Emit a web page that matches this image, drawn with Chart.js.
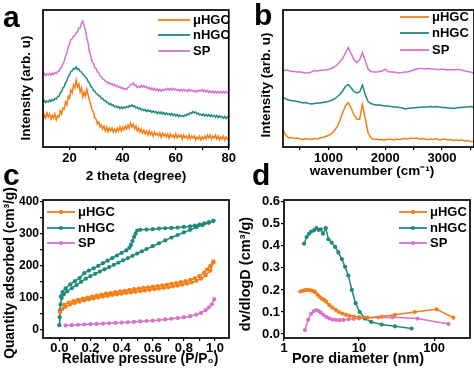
<!DOCTYPE html>
<html>
<head>
<meta charset="utf-8">
<script src="https://cdn.jsdelivr.net/npm/chart.js@4.4.1/dist/chart.umd.min.js"></script>
<style>
  html, body { margin: 0; padding: 0; background: #fff; }
  body { width: 474px; height: 368px; position: relative; overflow: hidden; }
  canvas { position: absolute; }
  #chartA { left: 0; top: 0; width: 237px; height: 190px; }
  #chartB { left: 237px; top: 0; width: 237px; height: 190px; }
  #chartC { left: 0; top: 160px; width: 237px; height: 208px; }
  #chartD { left: 237px; top: 160px; width: 237px; height: 208px; }
</style>
</head>
<body>
<canvas id="chartA" width="237" height="190"></canvas>
<canvas id="chartB" width="237" height="190"></canvas>
<canvas id="chartC" width="237" height="208"></canvas>
<canvas id="chartD" width="237" height="208"></canvas>
<script>
// ---- data ----
const names = ['\u03bcHGC', 'nHGC', 'SP'];
const colors = ['#f57f17', '#1f8a7c', '#d874c8'];

// a: XRD, sampled every 0.5 degree from 10 to 80
const thetaStart = 10, thetaStep = 0.5;
const xrdMu = [27,32,29,34,30,33,28,32,29,33, 27,31,30,36,33,39,38,45,42,51,
  49,57,54,62,59,67,60,63,55,59, 50,55,51,58,52,47,42,37,35,29,
  28,23,25,20,22,18,21,16,20,15, 19,16,19,15,18,15,19,16,20,16,
  20,17,21,18,22,19,24,20,23,18, 21,16,19,15,18,14,17,13,16,12,
  16,12,15,11,15,12,14,11,14,10, 14,11,13,10,13,9,13,10,12,9,
  13,9,12,10,12,8,12,9,11,8, 12,8,11,9,11,7,10,8,11,7,
  10,8,11,8,12,9,12,8,11,9, 12,8,11,7,10,8,11,7,10,8, 10];
const xrdN = [45,46.5,44.5,46,45,47,45.5,47.5,46.5,48.5, 48,50.5,50.5,54,55.5,59,60.5,64.5,66,70.5,
  72,75.5,76,78.5,78,80,77.5,78,75.5,75, 72.5,72,69.5,68.5,65.5,64,60.5,59.5,56.5,56,
  53.5,53,51,51,48.5,48.5,46.5,46.5,44.5,44.5, 42.5,43.5,41.5,42,40,41,39.5,40.5,38.5,40,
  38.5,40,39,40.5,39.5,41.5,40.5,42,40.5,41, 39,40,38,39,37,38,36.5,37.5,35.5,37,
  35.5,36.5,34.5,36,34.5,35.5,33.5,35,33.5,35, 33,34.5,32.5,34,32.5,33.5,32,33.5,31.5,33,
  31,32.5,30.5,32,30.5,31.5,30.5,32,31.5,33, 32.5,34.5,33.5,35.5,34,35,33,34,32,33,
  31.5,33,31,32.5,31,32.5,30.5,32,30.5,31.5, 30,31.5,29.5,31,29.5,30.5,29,30.5,28.5,30, 29];
const xrdSP = [72,73.5,71.5,73,72,73.5,72,74,72.5,74.5, 73.5,75.5,75.5,78.5,79.5,83.5,85.5,91,94,100,
  103,107.5,108,111,111,114.5,115,119,119,124, 126,121,117,109,104,95,91,85,84,79.5,
  78.5,75,74.5,71,70.5,68,67.5,65.5,65.5,63.5, 64.5,62.5,63.5,61.5,62.5,60.5,61.5,59.5,60.5,58.5,
  59.5,57.5,58.5,57.5,59.5,60,62.5,62.5,64,61.5, 62,59.5,60.5,59.5,61.5,60,61.5,59.5,60.5,58.5,
  59.5,57.5,59,57,58.5,56.5,58,56,57.5,56, 57.5,56.5,58,57,58.5,57,58.5,57,58.5,57,
  58,56.5,57.5,56,57.5,56,57.5,56,57,55.5, 57.5,56,57,55.5,56.5,55,56.5,55.5,57,56,
  57.5,55.5,57,55,56.5,54.5,56,54.5,56,54, 55.5,54,55.5,54,55.5,54,55.5,54,55.5,54, 55];
const ticksA = [20, 30, 40, 50, 60, 70, 80];
const labelsA = [20, 40, 60, 80];

// b: Raman, sampled every 50 cm-1 from 200
const wnStart = 200, wnStep = 50;
const ramanMu = [17,12,9,9.5,8.5,9,8,7.5,8.5,8, 7.5,8.5,8,9,9.5,10.5,11.5,13,16,20,
  26,34,41,44.5,39,32,28,27.5,42.5,28, 14,9,7.5,8,7,7.5,7,8,7.5,7,
  8,7.5,8,8.5,8,9,8.5,9,8,8.5, 8,7.5,8,7.5,8.5,7,7.5,8,7,7.5,
  6.5,7,6.5,7,6,6.5,5.5,5.5];
const ramanN = [50,48,47,46.5,46,45.5,45,44,44.5,43.5, 43,43.5,44,44,44.5,45,45.5,46.5,48,50,
  52.5,56,60.5,62.5,59,55.5,54,55,62,52, 45.5,43.5,42.5,42,42,41.5,41,41,40.5,40,
  40,39.5,39,38,38.5,39,39,39.5,39.5,40, 40,40,40.5,40,40.5,40,39.5,39.5,39,39,
  38.5,39,39.5,39.5,40,40,40.5,40];
const ramanSP = [76,77,76.5,75.5,75.5,75,75,74.5,74,74, 75,76.5,76,76.5,77,77,77.5,78.5,80,82,
  85,88.5,94,99.5,93.5,87.5,84.5,87,94.5,86, 78,75.5,75,75,75.5,76,78,75.5,75,75,
  74.5,74,74.5,75,75,76,77,78,78.5,78.5, 78,78.5,78,78,77.5,77.5,78,77.5,77,77.5,
  77,77.5,77.5,77,76,75.5,75,74];
const ticksB = [500, 1000, 1500, 2000, 2500, 3000, 3500];
const labelsB = [1000, 2000, 3000];

// c: N2 isotherms (adsorption and desorption branches)
const pMuAds = [0.005,0.02,0.04,0.07,0.1,0.13,0.16,0.19,0.22,0.25,0.28,0.31,0.34,0.37,0.4,0.43,0.46,0.49,0.52,0.55,0.58,0.61,0.64,0.67,0.7,0.73,0.76,0.79,0.82,0.85,0.88,0.91,0.94,0.97,0.99];
const qMuAds = [55,65,72,79,84,88,92,95,98,101,104,106,109,111,113,115,117,119,121,123,125,127,129,131,133,136,138,141,144,148,153,160,170,185,210];
const pMuDes = [0.99,0.97,0.95,0.93,0.9,0.87,0.84,0.81,0.78,0.75,0.72,0.69,0.66,0.63,0.6,0.57,0.54,0.51,0.48,0.45,0.42,0.39,0.36,0.33,0.3,0.27,0.24,0.21,0.18,0.15,0.12,0.09,0.06,0.03];
const qMuDes = [214,200,189,179,168,161,156,152,149,146,144,141,139,137,135,133,131,129,127,125,122,120,118,115,113,110,107,104,101,98,94,90,85,78];
const pNAds = [0,0.002,0.004,0.008,0.015,0.03,0.05,0.08,0.11,0.14,0.17,0.2,0.23,0.26,0.29,0.32,0.35,0.38,0.41,0.44,0.47,0.5,0.53,0.56,0.6,0.64,0.68,0.72,0.76,0.8,0.84,0.88,0.92,0.96,0.99];
const qNAds = [15,40,60,80,100,112,120,130,140,150,160,168,175,182,189,196,203,210,217,224,231,238,245,252,261,270,279,288,296,304,312,320,327,334,340];
const pNDes = [0.99,0.96,0.93,0.9,0.87,0.84,0.8,0.76,0.72,0.68,0.64,0.6,0.56,0.52,0.5,0.49,0.48,0.47,0.46,0.45,0.43,0.4,0.37,0.34,0.31,0.28,0.25,0.22,0.19,0.16,0.13,0.1,0.07,0.04,0.02,0.01];
const qNDes = [340,336,332,328,325,323,321,319,318,317,316,314,313,312,310,300,290,277,265,256,248,240,232,224,216,208,200,192,185,177,162,152,142,130,118,105];
const pSP = [0.04,0.08,0.12,0.16,0.2,0.24,0.28,0.32,0.36,0.4,0.44,0.48,0.52,0.56,0.6,0.64,0.68,0.72,0.76,0.8,0.84,0.88,0.91,0.94,0.96,0.98,0.995];
const qSP = [14,15,16,17,18,19,20,21,22,23,24,25,27,28,29,31,33,35,37,40,43,48,53,62,70,80,96];
const ticksCx = [0, 0.1, 0.2, 0.3, 0.4, 0.5, 0.6, 0.7, 0.8, 0.9, 1.0];
const labelsCx = [0, 0.2, 0.4, 0.6, 0.8, 1.0];
const ticksCy = [0, 50, 100, 150, 200, 250, 300, 350, 400];
const labelsCy = [0, 100, 200, 300, 400];

// d: pore size distribution
const dMu = [1.65,1.8,1.95,2.1,2.3,2.45,2.6,2.8,3.0,3.2,3.4,3.65,4.0,4.4,4.9,5.4,6.0,6.7,7.5,8.5,10,13,20,30,55,108,180];
const vMu = [0.193,0.197,0.2,0.2,0.198,0.195,0.19,0.178,0.168,0.16,0.155,0.147,0.132,0.12,0.11,0.1,0.093,0.087,0.082,0.079,0.077,0.074,0.079,0.087,0.1,0.112,0.074];
const dN = [1.85,2.0,2.15,2.3,2.5,2.7,2.9,3.1,3.3,3.6,3.9,4.3,4.8,5.3,5.9,6.5,7.2,8.0,9.0,10.2,12,14.5,20,30,50];
const vN = [0.41,0.44,0.455,0.465,0.47,0.48,0.472,0.475,0.455,0.48,0.43,0.415,0.395,0.37,0.34,0.305,0.265,0.2,0.14,0.1,0.07,0.055,0.043,0.035,0.025];
const dSP = [1.9,2.1,2.3,2.5,2.7,2.9,3.1,3.35,3.65,4.0,4.4,4.9,5.5,6.2,7.2,8.5,10,12,18,28,60,155];
const vSP = [0.018,0.065,0.092,0.104,0.108,0.104,0.097,0.087,0.078,0.071,0.066,0.064,0.063,0.064,0.067,0.069,0.071,0.073,0.075,0.076,0.07,0.046];
const ticksDx = [1, 10, 100];
const ticksDy = [0, 0.1, 0.2, 0.3, 0.4, 0.5, 0.6];

// ---- helpers ----
const FONT = '"Liberation Sans", Arial, Helvetica, sans-serif';
Chart.defaults.font.family = FONT;
Chart.defaults.font.size = 13;
Chart.defaults.font.weight = 'bold';
Chart.defaults.color = '#000';

const sampled = (vals, start, step) => vals.map((y, i) => ({ x: start + i * step, y: y }));
const pairs = (xs, ys) => xs.map((x, i) => ({ x: x, y: ys[i] }));

function axis(o) {
  return {
    type: o.type || 'linear',
    min: o.min,
    max: o.max,
    afterFit: s => { if (s.isHorizontal()) s.height = o.size; else s.width = o.size; },
    afterBuildTicks: s => { s.ticks = o.ticks.map(v => ({ value: v })); },
    grid: { drawOnChartArea: false, drawTicks: true, tickLength: 3, color: '#000', lineWidth: 1.2 },
    border: { display: false },
    ticks: {
      display: !!o.labels,
      padding: o.pad || 0,
      autoSkip: false,
      maxRotation: 0,
      font: { size: o.fontSize || 13, weight: 'bold' },
      color: '#000',
      callback: v => (o.labels && o.labels.includes(v)) ? o.fmt(v) : ''
    }
  };
}

function trace(data, color, dots) {
  return {
    data: data,
    borderColor: color,
    backgroundColor: color,
    borderWidth: 1.5,
    pointRadius: dots ? 2.1 : 0,
    pointBorderWidth: 0,
    tension: 0,
    fill: false
  };
}

// frame, panel letter, axis titles and in-plot legend
const overlay = {
  id: 'overlay',
  afterDraw(chart, args, o) {
    const { ctx, chartArea: a } = chart;
    ctx.save();
    ctx.strokeStyle = '#000';
    ctx.lineWidth = 1.7;
    ctx.strokeRect(a.left, a.top, a.right - a.left, a.bottom - a.top);

    ctx.fillStyle = '#000';
    ctx.font = 'bold 30px ' + FONT;
    ctx.textAlign = 'left';
    ctx.textBaseline = 'alphabetic';
    ctx.fillText(o.letter[0], o.letter[1], o.letter[2]);

    ctx.font = 'bold ' + o.titleSize + 'px ' + FONT;
    ctx.textAlign = 'center';
    ctx.textBaseline = 'middle';
    ctx.fillText(o.xTitle[0], o.xTitle[1], o.xTitle[2]);
    ctx.save();
    ctx.translate(o.yTitle[1], o.yTitle[2]);
    ctx.rotate(-Math.PI / 2);
    ctx.fillText(o.yTitle[0], 0, 0);
    ctx.restore();

    const lg = o.legend;
    ctx.font = 'bold 13px ' + FONT;
    ctx.textAlign = 'left';
    names.forEach((n, i) => {
      const y = lg.ys[i];
      ctx.strokeStyle = colors[i];
      ctx.lineWidth = 1.8;
      ctx.beginPath();
      ctx.moveTo(lg.x0, y);
      ctx.lineTo(lg.x1, y);
      ctx.stroke();
      if (lg.dots) {
        ctx.fillStyle = colors[i];
        ctx.beginPath();
        ctx.arc((lg.x0 + lg.x1) / 2, y, 2.1, 0, Math.PI * 2);
        ctx.fill();
      }
      ctx.fillStyle = '#000';
      ctx.fillText(n, lg.tx, y + 0.5);
    });
    ctx.restore();
  }
};

function makeChart(id, datasets, scales, padding, overlayOpts) {
  return new Chart(document.getElementById(id), {
    type: 'line',
    data: { datasets: datasets },
    plugins: [overlay],
    options: {
      responsive: false,
      animation: false,
      layout: { padding: padding },
      plugins: { legend: { display: false }, tooltip: { enabled: false }, overlay: overlayOpts },
      scales: scales
    }
  });
}

// ---- a ----
makeChart('chartA', [
  trace(sampled(xrdMu, thetaStart, thetaStep), colors[0]),
  trace(sampled(xrdN, thetaStart, thetaStep), colors[1]),
  trace(sampled(xrdSP, thetaStart, thetaStep), colors[2])
], {
  x: axis({ min: 10, max: 80, size: 43, ticks: ticksA, labels: labelsA, fmt: v => String(v), pad: 1 }),
  y: axis({ min: 0, max: 137, size: 43, ticks: [], labels: null })
}, { left: 0, top: 10, right: 6, bottom: 0 }, {
  letter: ['a', 3, 27],
  titleSize: 13.5,
  xTitle: ['2 theta (degree)', 136, 176],
  yTitle: ['Intensity (arb. u)', 26, 88],
  legend: { x0: 158, x1: 190, tx: 193, ys: [20, 35, 51], dots: false }
});

// ---- b ----
makeChart('chartB', [
  trace(sampled(ramanMu, wnStart, wnStep), colors[0]),
  trace(sampled(ramanN, wnStart, wnStep), colors[1]),
  trace(sampled(ramanSP, wnStart, wnStep), colors[2])
], {
  x: axis({ min: 200, max: 3565, size: 43, ticks: ticksB, labels: labelsB, fmt: v => String(v), pad: 1 }),
  y: axis({ min: 0, max: 137, size: 46, ticks: [], labels: null })
}, { left: 0, top: 10, right: 0, bottom: 0 }, {
  letter: ['b', 17, 25],
  titleSize: 13.5,
  xTitle: ['wavenumber (cm\u207b\u00b9)', 135, 171],
  yTitle: ['Intensity (arb. u)', 29, 85],
  legend: { x0: 163, x1: 192, tx: 195, ys: [17, 33, 50], dots: false }
});

// ---- c ----
makeChart('chartC', [
  trace(pairs(pMuAds, qMuAds), colors[0], true),
  trace(pairs(pMuDes, qMuDes), colors[0], true),
  trace(pairs(pNAds, qNAds), colors[1], true),
  trace(pairs(pNDes, qNDes), colors[1], true),
  trace(pairs(pSP, qSP), colors[2], true)
], {
  x: axis({ min: -0.105, max: 1.09, size: 30, ticks: ticksCx, labels: labelsCx, fmt: v => v.toFixed(1) }),
  y: axis({ min: -25, max: 405, size: 43, ticks: ticksCy, labels: labelsCy, fmt: v => String(v), fontSize: 12, pad: 1 })
}, { left: 0, top: 40, right: 8, bottom: 0 }, {
  letter: ['c', 3, 25],
  titleSize: 13.8,
  xTitle: ['Relative pressure (P/P\u2080)', 140, 199],
  yTitle: ['Quantity adsorbed (cm\u00b3/g)', 10, 113],
  legend: { x0: 47, x1: 75, tx: 78, ys: [52, 68, 83], dots: true }
});

// ---- d ----
makeChart('chartD', [
  trace(pairs(dMu, vMu), colors[0], true),
  trace(pairs(dN, vN), colors[1], true),
  trace(pairs(dSP, vSP), colors[2], true)
], {
  x: axis({ type: 'logarithmic', min: 1, max: 300, size: 30, ticks: ticksDx, labels: ticksDx, fmt: v => String(v) }),
  y: axis({ min: -0.018, max: 0.608, size: 47, ticks: ticksDy, labels: ticksDy, fmt: v => v.toFixed(1), pad: 1 })
}, { left: 0, top: 40, right: 0, bottom: 0 }, {
  letter: ['d', 15, 25],
  titleSize: 14.5,
  xTitle: ['Pore diameter (nm)', 121, 199],
  yTitle: ['dv/dlogD (cm\u00b3/g)', 9, 114],
  legend: { x0: 162, x1: 190, tx: 193, ys: [52, 68, 83], dots: true }
});
</script>
</body>
</html>
